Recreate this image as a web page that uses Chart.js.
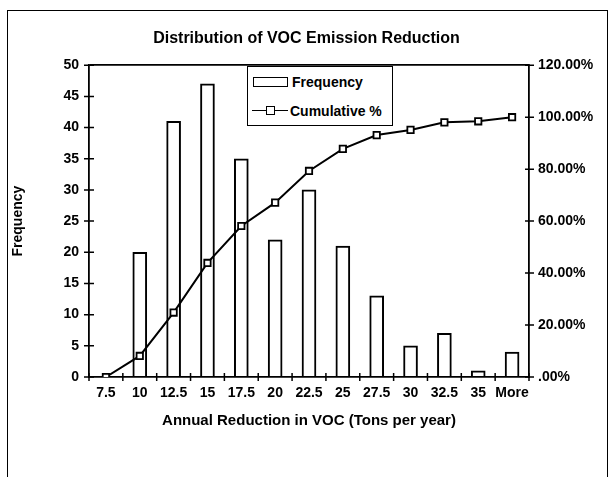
<!DOCTYPE html>
<html>
<head>
<meta charset="utf-8">
<script src="https://cdn.jsdelivr.net/npm/chart.js@4.4.1/dist/chart.umd.min.js"></script>
<style>
  html, body { margin: 0; padding: 0; background: #fff; }
  #wrap { position: relative; width: 613px; height: 477px; overflow: hidden; }
  #frame { position: absolute; left: 7px; top: 10px; width: 601px; height: 480px;
           border: 1.5px solid #000; box-sizing: border-box; }
  #legend { position: absolute; left: 247px; top: 66px; width: 146px; height: 60px;
            border: 1.5px solid #000; background: #fff; box-sizing: border-box;
            font: bold 14px "Liberation Sans", Arial, sans-serif; color: #000; }
  .row { position: absolute; left: 0; height: 16px; line-height: 16px; white-space: nowrap; }
  .box { position: absolute; left: 5px; top: 3px; width: 35px; height: 10px;
         border: 1.8px solid #000; box-sizing: border-box; }
  .ln { position: absolute; left: 4px; top: 7px; width: 36px; height: 0; border-top: 1.8px solid #000; }
  .mk { position: absolute; left: 18px; top: 3px; width: 9px; height: 9px;
        border: 1.8px solid #000; background: #fff; box-sizing: border-box; }
  .txt { position: absolute; left: 44px; top: 0; }
</style>
</head>
<body>
<div id="wrap">
  <div id="frame"></div>
  <canvas id="c" width="613" height="477"></canvas>
  <div id="legend">
    <div class="row" style="top:7px"><span class="box"></span><span class="txt">Frequency</span></div>
    <div class="row" style="top:36px"><span class="ln"></span><span class="mk"></span><span class="txt" style="left:42px">Cumulative %</span></div>
  </div>
</div>
<script>
// Histogram bins and values
const bins = ['7.5', '10', '12.5', '15', '17.5', '20', '22.5', '25', '27.5', '30', '32.5', '35', 'More'];
const frequency = [0, 20, 41, 47, 35, 22, 30, 21, 13, 5, 7, 1, 4];
const cumulativePct = [0, 8.1, 24.8, 43.9, 58.1, 67.1, 79.3, 87.8, 93.1, 95.1, 98.0, 98.4, 100];

const FONT = '"Liberation Sans", Arial, sans-serif';

// small tick marks crossing the axes, as in the old spreadsheet style
const crossTicks = {
  id: 'crossTicks',
  afterDraw(chart) {
    const { ctx, scales } = chart;
    const x = scales.x, y = scales.y, y1 = scales.y1;
    ctx.save();
    ctx.strokeStyle = '#000';
    ctx.lineWidth = 1.5;
    ctx.beginPath();
    y.ticks.forEach(t => {
      const py = y.getPixelForValue(t.value);
      ctx.moveTo(y.right - 5, py); ctx.lineTo(y.right + 5, py);
    });
    y1.ticks.forEach(t => {
      const py = y1.getPixelForValue(t.value);
      ctx.moveTo(y1.left - 4, py); ctx.lineTo(y1.left + 5, py);
    });
    const half = (x.getPixelForValue(1) - x.getPixelForValue(0)) / 2;
    for (let i = 0; i <= bins.length; i++) {
      const px = x.getPixelForValue(i) - half;
      ctx.moveTo(px, x.top - 4); ctx.lineTo(px, x.top + 4);
    }
    ctx.stroke();
    ctx.restore();
  }
};

new Chart(document.getElementById('c'), {
  data: {
    labels: bins,
    datasets: [
      {
        type: 'line',
        label: 'Cumulative %',
        data: cumulativePct,
        yAxisID: 'y1',
        borderColor: '#000',
        borderWidth: 2,
        pointStyle: 'rect',
        pointRadius: 4.5,
        pointBorderWidth: 1.8,
        pointBackgroundColor: '#fff',
        pointBorderColor: '#000',
        tension: 0,
        order: 0
      },
      {
        type: 'bar',
        label: 'Frequency',
        data: frequency,
        yAxisID: 'y',
        backgroundColor: '#fff',
        borderColor: '#000',
        borderWidth: 2,
        barThickness: 14,
        order: 1
      }
    ]
  },
  options: {
    responsive: false,
    animation: false,
    events: [],
    layout: { padding: { left: 0, right: 0, top: 0, bottom: 47 } },
    plugins: {
      legend: { display: false },
      tooltip: { enabled: false },
      title: {
        display: true,
        text: 'Distribution of VOC Emission Reduction',
        color: '#000',
        font: { family: FONT, size: 16, weight: 'bold' },
        padding: { top: 29, bottom: 17 }
      }
    },
    scales: {
      x: {
        offset: true,
        grid: { display: false, drawTicks: false },
        border: { display: true, color: '#000', width: 1.8 },
        ticks: { color: '#000', font: { family: FONT, size: 14, weight: 'bold' }, padding: 8, maxRotation: 0, autoSkip: false },
        title: {
          display: true,
          text: 'Annual Reduction in VOC (Tons per year)',
          color: '#000',
          font: { family: FONT, size: 15, weight: 'bold' },
          padding: { top: 8, bottom: 0 }
        },
        afterFit: s => { s.height = 53; }
      },
      y: {
        position: 'left',
        min: 0, max: 50,
        ticks: { stepSize: 5, color: '#000', font: { family: FONT, size: 14, weight: 'bold' }, padding: 10 },
        grid: {
          drawTicks: false,
          lineWidth: 1.8,
          color: c => (c.tick && c.tick.value === 50 ? '#000' : 'rgba(0,0,0,0)')
        },
        border: { display: true, color: '#000', width: 1.8 },
        title: {
          display: true,
          text: 'Frequency',
          color: '#000',
          font: { family: FONT, size: 14, weight: 'bold' },
          padding: { top: 10, bottom: 0 }
        },
        afterFit: s => { s.width = 89; }
      },
      y1: {
        position: 'right',
        min: 0, max: 120,
        ticks: {
          stepSize: 20, color: '#000', font: { family: FONT, size: 14, weight: 'bold' }, padding: 9,
          callback: v => (v === 0 ? '.00%' : v.toFixed(2) + '%')
        },
        grid: { drawOnChartArea: false, drawTicks: false },
        border: { display: true, color: '#000', width: 1.8 },
        afterFit: s => { s.width = 84; }
      }
    }
  },
  plugins: [crossTicks]
});
</script>
</body>
</html>
